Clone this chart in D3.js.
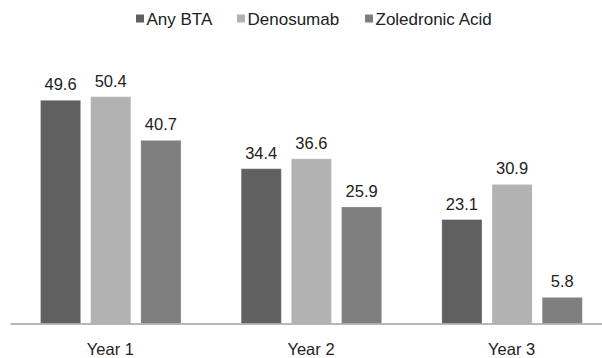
<!DOCTYPE html>
<html lang="en">
<head>
    <meta charset="UTF-8">
    <title>BTA by year</title>
    <script src="https://d3js.org/d3.v7.min.js"></script>
    <style>
        body { margin: 0; background: #fff; }
        text { font-family: "Liberation Sans", Arial, sans-serif; fill: #222; }
    </style>
</head>
<body>
    <svg width="602" height="358"></svg>
    <script>
        const years = ["Year 1", "Year 2", "Year 3"];
        const series = ["Any BTA", "Denosumab", "Zoledronic Acid"];
        const anyBTA = [49.6, 34.4, 23.1];
        const denosumab = [50.4, 36.6, 30.9];
        const zoledronic = [40.7, 25.9, 5.8];
        const colors = ["#606060", "#b2b2b2", "#7f7f7f"];

        const values = [anyBTA, denosumab, zoledronic];
        const svg = d3.select("svg");
        const baseY = 323.5;

        const x = d3.scaleBand()
                    .domain(years)
                    .range([10, 612]);
        // bars sit a bit left of the band centre, like the original
        const x1 = d3.scaleBand()
                    .domain(series)
                    .range([30.5, 171])
                    .paddingInner(0.2);
        const y = d3.scaleLinear()
                    .domain([0, 60])
                    .range([baseY, baseY - 270]);

        const rows = [];
        years.forEach((yr, i) => {
            series.forEach((s, j) => rows.push({ yr, s, v: values[j][i], c: colors[j] }));
        });

        svg.selectAll(".bar")
           .data(rows)
           .enter().append("rect")
           .attr("class", "bar")
           .attr("x", d => x(d.yr) + x1(d.s))
           .attr("y", d => y(d.v))
           .attr("width", x1.bandwidth())
           .attr("height", d => y(0) - y(d.v))
           .attr("fill", d => d.c)
           .attr("stroke", "rgba(255,255,255,0.25)")
           .attr("stroke-width", 1);

        svg.selectAll(".val")
           .data(rows)
           .enter().append("text")
           .attr("class", "val")
           .attr("x", d => x(d.yr) + x1(d.s) + x1.bandwidth() / 2)
           .attr("y", d => y(d.v) - 10)
           .attr("text-anchor", "middle")
           .attr("font-size", "16.5px")
           .text(d => d.v.toFixed(1));

        const axis = svg.append("g")
           .attr("transform", `translate(0,${baseY})`)
           .call(d3.axisBottom(x).tickSize(0).tickPadding(20));
        axis.select(".domain").attr("stroke", "#a0a0a0").attr("stroke-width", 1.5);
        axis.selectAll("text")
           .attr("font-size", "16.5px")
           .attr("fill", "#222")
           .attr("font-family", "Liberation Sans, Arial, sans-serif");

        // legend, item positions taken from the original layout
        const legendX = [136, 237, 365];
        const legend = svg.append("g");
        series.forEach((s, j) => {
            const g = legend.append("g").attr("transform", `translate(${legendX[j]},0)`);
            g.append("rect")
             .attr("x", 0).attr("y", 14.5)
             .attr("width", 8).attr("height", 8)
             .attr("fill", colors[j]);
            g.append("text")
             .attr("x", 10.5).attr("y", 25)
             .attr("font-size", "17px")
             .text(s);
        });
    </script>
</body>
</html>
